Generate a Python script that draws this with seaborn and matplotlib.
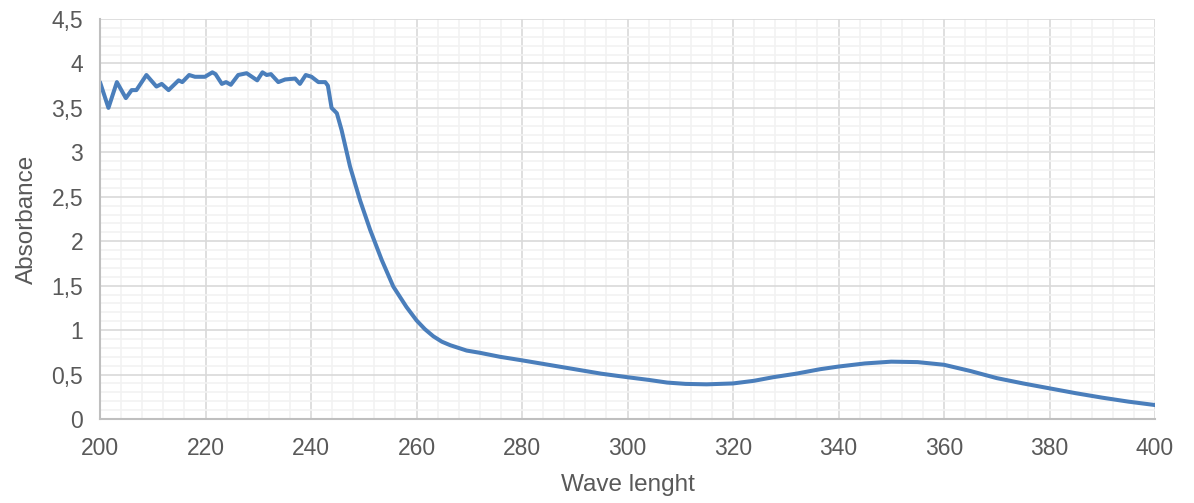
import matplotlib
matplotlib.use("Agg")
import matplotlib.pyplot as plt
import seaborn as sns
import pandas as pd
from matplotlib.ticker import MultipleLocator, FuncFormatter

wavelength = [200, 201.6, 203.2, 204.9, 206.0, 206.9, 208.8, 210.7, 211.7, 213.0,
              214.9, 215.6, 216.9, 218.0, 219.9, 221.3, 221.9, 223.1, 223.9, 224.8,
              226.2, 227.8, 229.8, 230.8, 231.6, 232.4, 233.8, 235.1, 237.0, 237.9,
              239.0, 240.1, 241.4, 242.7, 243.2, 243.9, 244.9, 245.8, 247.4, 249.3,
              251.2, 253.4, 255.6, 258.1, 260.0, 261.6, 263.2, 264.8, 266.4, 269.5,
              272.0, 275.8, 280, 285, 291, 295, 300, 304, 307.5, 311,
              315, 320, 324, 327.6, 332, 336.5, 340, 345, 350, 355,
              360, 365, 370, 375, 380, 385, 390, 395, 400]
absorbance = [3.79, 3.50, 3.79, 3.61, 3.70, 3.70, 3.87, 3.74, 3.77, 3.70,
              3.81, 3.79, 3.87, 3.85, 3.85, 3.90, 3.88, 3.77, 3.79, 3.76,
              3.87, 3.89, 3.81, 3.90, 3.87, 3.88, 3.79, 3.82, 3.83, 3.77,
              3.87, 3.85, 3.79, 3.79, 3.75, 3.50, 3.44, 3.25, 2.84, 2.46,
              2.13, 1.79, 1.49, 1.26, 1.11, 1.01, 0.93, 0.87, 0.83, 0.77,
              0.745, 0.70, 0.66, 0.61, 0.55, 0.51, 0.47, 0.44, 0.41, 0.395,
              0.39, 0.40, 0.43, 0.47, 0.51, 0.56, 0.59, 0.625, 0.645, 0.64,
              0.61, 0.54, 0.46, 0.40, 0.345, 0.29, 0.24, 0.195, 0.157]

df = pd.DataFrame({"Wave lenght": wavelength, "Absorbance": absorbance})

sns.set_style("white")
plt.rcParams['font.family'] = ['Liberation Sans', 'DejaVu Sans']

text_color = "#595959"
fig = plt.figure(figsize=(11.94, 5.03), dpi=100)
ax = fig.add_axes([100/1194, 84/503, 1055/1194, 400/503])

sns.lineplot(data=df, x="Wave lenght", y="Absorbance", ax=ax, color="#4A7EBB",
             linewidth=2.9, sort=False)
for l in ax.lines:
    l.set_solid_joinstyle("round")
    l.set_solid_capstyle("round")

ax.set_xlim(200, 400)
ax.set_ylim(0, 4.5)
ax.xaxis.set_major_locator(MultipleLocator(20))
ax.xaxis.set_minor_locator(MultipleLocator(4))
ax.yaxis.set_major_locator(MultipleLocator(0.5))
ax.yaxis.set_minor_locator(MultipleLocator(0.1))
ax.yaxis.set_major_formatter(FuncFormatter(lambda v, p: ("%g" % v).replace(".", ",")))

ax.grid(which="major", color="#d9d9d9", linewidth=1.2)
ax.grid(which="minor", color="#f2f2f2", linewidth=1.2)
ax.set_axisbelow(True)

for s in ["top", "right"]:
    ax.spines[s].set_visible(False)
for s in ["left", "bottom"]:
    ax.spines[s].set_color("#bfbfbf")
    ax.spines[s].set_linewidth(1.5)

ax.tick_params(which="major", length=7, width=1.5, color="#bfbfbf",
               labelsize=16.5, labelcolor=text_color, direction="out")
ax.tick_params(axis="x", pad=6)
ax.tick_params(axis="y", pad=5)
ax.tick_params(which="minor", length=0)

ax.set_xlabel("Wave lenght", fontsize=17.5, color=text_color, labelpad=10)
ax.set_ylabel("Absorbance", fontsize=17.5, color=text_color, labelpad=10)

fig.savefig("out.png", dpi=100)
